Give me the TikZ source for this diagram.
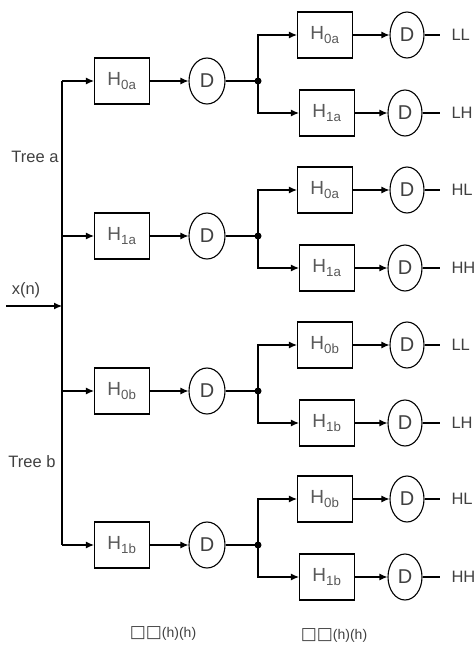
\documentclass[tikz,border=0pt]{standalone}
\usepackage{fontspec}
\setmainfont{Liberation Sans}
\newfontfamily\tofufont{DejaVu Sans}
\usetikzlibrary{arrows.meta,shapes.geometric}

\begin{document}
\begin{tikzpicture}[x=1pt,y=-1pt,line width=1.1pt,
  filt/.style={draw, rectangle, minimum width=55pt, minimum height=46pt, inner sep=0pt,
    font=\fontsize{19}{19}\selectfont, text=black!65},
  down/.style={draw, ellipse, minimum width=36pt, minimum height=46pt, inner sep=0pt,
    font=\fontsize{20}{20}\selectfont, text=black!75},
  arr/.style={-{Latex[length=8pt,width=7pt]}},
  dot/.style={fill, circle, inner sep=0pt, minimum size=7pt},
  lbl/.style={font=\fontsize{16.5}{16.5}\selectfont, text=black!75},
  outlbl/.style={lbl, anchor=west, inner xsep=11pt}
]
\useasboundingbox (0,0) rectangle (475,651);
% input and main stem
\coordinate (xin) at (6,306);
\coordinate (xj) at (62,306);
\node[lbl] (xn) at (26,290) {x(n)};
\node[lbl] (treea) at (35,157) {Tree a};
\node[lbl] (treeb) at (32,462) {Tree b};
\draw[arr] (xin) -- (xj);
% two-level filter bank, one loop per first-level branch
\foreach \y/\s/\t/\ou/\ol [count=\i] in {81/0a/a/LL/LH, 236/1a/a/HL/HH, 391/0b/b/LL/LH, 545/1b/b/HL/HH}
{
  \coordinate (t\i) at (62,\y);
  \node[filt] (f\i) at (122,\y) {H\textsubscript{\s}};
  \node[down] (d\i) at (207,\y) {D};
  \node[dot] (j\i) at (258,\y) {};
  \coordinate (ju\i) at (258,\y-46);
  \coordinate (jl\i) at (258,\y+32);
  \node[filt] (fu\i) at (325,\y-46) {H\textsubscript{0\t}};
  \node[filt] (fl\i) at (327,\y+32) {H\textsubscript{1\t}};
  \node[down, minimum width=34pt] (du\i) at (407,\y-46) {D};
  \node[down, minimum width=34pt] (dl\i) at (405,\y+32) {D};
  \node[outlbl] (ou\i) at (440,\y-46) {\ou};
  \node[outlbl] (ol\i) at (440,\y+32) {\ol};
  \draw[arr] (t\i) -- (f\i);
  \draw[arr] (f\i) -- (d\i);
  \draw (d\i) -- (j\i.center);
  \draw[arr] (j\i.center) -- (ju\i) -- (fu\i);
  \draw[arr] (j\i.center) -- (jl\i) -- (fl\i);
  \draw[arr] (fu\i) -- (du\i);
  \draw[arr] (fl\i) -- (dl\i);
  \draw (du\i) -- (ou\i);
  \draw (dl\i) -- (ol\i);
}
\draw (t1) -- (t4);
% captions under the columns
\node[lbl] (capa) at (163,633) {{\tofufont\fontsize{17}{17}\selectfont □□}{\fontsize{14}{14}\selectfont(h)(h)}};
\node[lbl] (capb) at (334,635) {{\tofufont\fontsize{17}{17}\selectfont □□}{\fontsize{14}{14}\selectfont(h)(h)}};
\end{tikzpicture}
\end{document}
